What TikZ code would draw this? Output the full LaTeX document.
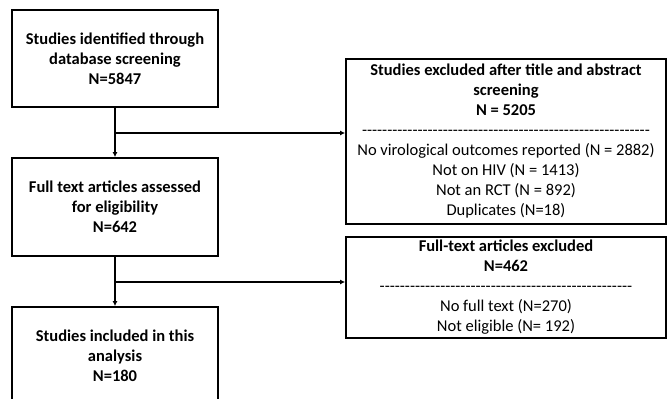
\documentclass[tikz,border=0pt]{standalone}
\usepackage{fontspec}
\setmainfont{Carlito}[Ligatures=TeXOff]
\usetikzlibrary{arrows.meta}
\tikzset{
  box/.style={draw, line width=1.8pt, align=center, inner sep=0pt, font=\fontsize{16.5}{20}\selectfont},
  conn/.style={line width=1.4pt},
  arr/.style={conn, -{Latex[length=5pt,width=5pt]}}
}
\begin{document}
\begin{tikzpicture}[x=1pt,y=-1pt]
\useasboundingbox (0,0) rectangle (667,399);
\node[box, minimum width=206pt, minimum height=97pt] (s1) at (115,58.5)
  {\bfseries Studies identified through\\ \bfseries database screening\\ \bfseries N=5847};
\node[box, minimum width=206pt, minimum height=98pt] (s2) at (115,207)
  {\bfseries Full text articles assessed\\ \bfseries for eligibility\\ \bfseries N=642};
\node[box, minimum width=206pt, minimum height=98pt] (s3) at (115,356)
  {\bfseries Studies included in this\\ \bfseries analysis\\ \bfseries N=180};
\node[box, minimum width=320pt, minimum height=165pt] (e1) at (506,141.5)
  {\bfseries Studies excluded after title and abstract\\ \bfseries screening\\ \bfseries N = 5205\\
   ---------------------------------------------------------\\
   No virological outcomes reported (N = 2882)\\ Not on HIV (N = 1413)\\ Not an RCT (N = 892)\\ Duplicates (N=18)};
\node[box, minimum width=320pt, minimum height=101pt] (e2) at (506,287.5)
  {\bfseries Full-text articles excluded\\ \bfseries N=462\\
   --------------------------------------------------\\
   No full text (N=270)\\ Not eligible (N= 192)};
\coordinate (j1) at (s1.south |- 0,133);
\coordinate (j2) at (s2.south |- 0,282);
\draw[arr] (s1.south) -- (s2.north);
\draw[arr] (s2.south) -- (s3.north);
\draw[arr] (j1) -- (j1 -| e1.west);
\draw[arr] (j2) -- (j2 -| e2.west);
\end{tikzpicture}
\end{document}
